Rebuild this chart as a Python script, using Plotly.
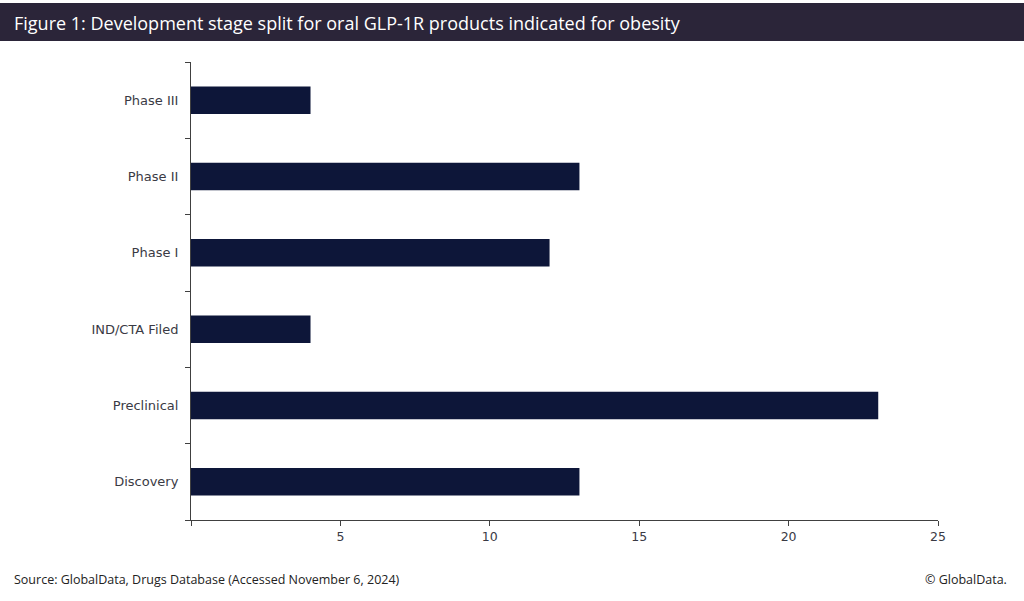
import plotly.graph_objects as go

stages = ["Discovery", "Preclinical", "IND/CTA Filed", "Phase I", "Phase II", "Phase III"]
counts = [13, 23, 4, 12, 13, 4]
x_ticks = [0, 5, 10, 15, 20, 25]
x_tick_labels = ["", "5", "10", "15", "20", "25"]

title_text = "Figure 1: Development stage split for oral GLP-1R products indicated for obesity"
source_text = "Source: GlobalData, Drugs Database (Accessed November 6, 2024)"
copyright_text = "© GlobalData."

W, H = 1024, 601
L, R, T, B = 191, 938, 62, 520
pw, ph = R - L, B - T

def px_x(px):
    return (px - L) / pw

def px_y(py):
    return (B - py) / ph

fig = go.Figure(go.Bar(
    x=counts, y=stages, orientation="h",
    marker=dict(color="#0d1639", line=dict(width=0)),
    hoverinfo="x+y",
))

fig.update_layout(
    width=W, height=H,
    margin=dict(l=L, r=W - R, t=T, b=H - B),
    paper_bgcolor="white", plot_bgcolor="white",
    bargap=0.64,
    showlegend=False,
    font=dict(family="DejaVu Sans", size=13, color="#3a3a44"),
    xaxis=dict(
        range=[0, 25], tickvals=x_ticks, ticktext=x_tick_labels,
        showgrid=False, zeroline=False,
        showline=True, linecolor="#404040", linewidth=1,
        ticks="outside", ticklen=5, tickcolor="#404040",
        tickfont=dict(family="DejaVu Sans", size=12.5, color="#3a3a44"),
        fixedrange=True,
    ),
    yaxis=dict(
        type="category", categoryorder="array", categoryarray=stages,
        showgrid=False, zeroline=False,
        showline=True, linecolor="#404040", linewidth=1,
        ticks="outside", ticklen=5, tickcolor="#404040", tickson="boundaries",
        tickfont=dict(family="DejaVu Sans", size=13, color="#3a3a44"),
        ticklabelstandoff=9,
        fixedrange=True,
    ),
    shapes=[dict(
        type="rect", xref="paper", yref="paper", layer="below",
        x0=px_x(0), x1=px_x(W), y0=px_y(41), y1=px_y(3),
        fillcolor="#2b2539", line=dict(width=0),
    )],
    annotations=[
        dict(text=title_text, xref="paper", yref="paper",
             x=px_x(12), y=px_y(23), xanchor="left", yanchor="middle",
             showarrow=False,
             font=dict(family="Open Sans", size=18, color="white")),
        dict(text=source_text, xref="paper", yref="paper",
             x=px_x(12), y=px_y(579), xanchor="left", yanchor="middle",
             showarrow=False,
             font=dict(family="Open Sans", size=12.5, color="#222222")),
        dict(text=copyright_text, xref="paper", yref="paper",
             x=px_x(1009), y=px_y(579), xanchor="right", yanchor="middle",
             showarrow=False,
             font=dict(family="Open Sans", size=12.5, color="#222222")),
    ],
)

fig.write_html(
    "out.html",
    config={"displayModeBar": False},
    post_script="document.body.style.margin='0';document.body.style.overflow='hidden';",
)
